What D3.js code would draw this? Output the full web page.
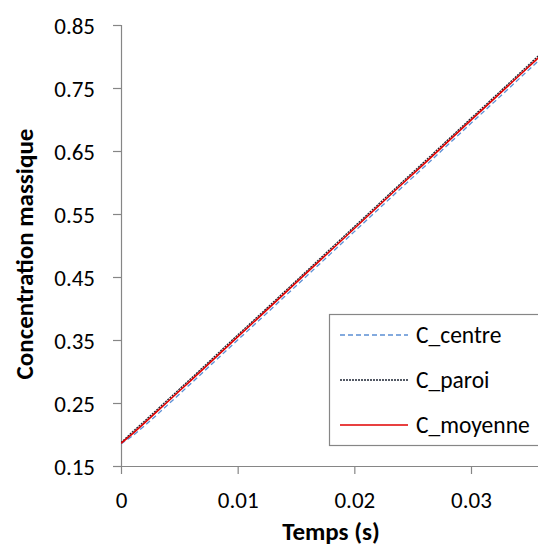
<!DOCTYPE html>
<html><head><meta charset="utf-8">
<script src="https://cdn.jsdelivr.net/npm/d3@7"></script>
<style>
html,body{margin:0;padding:0;background:#fff;}
svg{display:block;}
text{font-family:Calibri, Carlito, Lato, sans-serif;fill:#000;}
</style></head>
<body>
<svg id="chart" width="538" height="548"></svg>
<script>
// ---- data ----
const time = [0, 0.001, 0.002, 0.003, 0.004, 0.005, 0.006, 0.008, 0.010, 0.012, 0.014, 0.016, 0.018, 0.020, 0.022, 0.024, 0.026, 0.028, 0.030, 0.032, 0.034, 0.036];
const cCentre  = [0.185, 0.198, 0.2135, 0.230, 0.247, 0.264, 0.281, 0.3155, 0.350, 0.384, 0.4185, 0.453, 0.4875, 0.522, 0.5565, 0.591, 0.625, 0.6595, 0.694, 0.728, 0.7625, 0.797];
const cParoi   = [0.187, 0.2045, 0.221, 0.238, 0.255, 0.272, 0.289, 0.3235, 0.358, 0.392, 0.4265, 0.461, 0.4955, 0.530, 0.5645, 0.599, 0.633, 0.6675, 0.702, 0.736, 0.7705, 0.805];
const cMoyenne = [0.186, 0.2015, 0.218, 0.235, 0.252, 0.269, 0.286, 0.3205, 0.355, 0.389, 0.4235, 0.458, 0.4925, 0.527, 0.5615, 0.596, 0.630, 0.6645, 0.699, 0.733, 0.7675, 0.802];
const seriesNames = ["C_centre", "C_paroi", "C_moyenne"];
const xTicks = [0, 0.01, 0.02, 0.03];
const xTickLabels = ["0", "0.01", "0.02", "0.03"];
const yTicks = [0.15, 0.25, 0.35, 0.45, 0.55, 0.65, 0.75, 0.85];
const yTickLabels = ["0.15", "0.25", "0.35", "0.45", "0.55", "0.65", "0.75", "0.85"];
const xTitle = "Temps (s)";
const yTitle = "Concentration massique";

(function () {
// ---- layout ----
const svg = d3.select("#chart");
const pLeft = 121, pRight = 541, pTop = 25, pBottom = 466;
const x = d3.scaleLinear().domain([0, 0.036]).range([pLeft, pRight]);
const y = d3.scaleLinear().domain([0.15, 0.85]).range([pBottom, pTop]);
const axisColor = "#868686";
const fontFam = "Calibri, Carlito, Lato, sans-serif";
const tickFont = 23, legFont = 23.5, titleFont = 25;
const styles = [
  {color: "#5b8fd4", dash: "5,3", width: 1.3},
  {color: "#1c2533", dash: "2,1", width: 1.3},
  {color: "#e00000", dash: null, width: 1.6}
];
const seriesVals = [cCentre, cParoi, cMoyenne];

svg.append("defs").append("clipPath").attr("id", "plotclip")
  .append("rect").attr("x", pLeft).attr("y", 0).attr("width", pRight - pLeft).attr("height", pBottom);

// axes
const yAxis = d3.axisLeft(y).tickValues(yTicks).tickSize(8).tickPadding(18)
  .tickFormat((d, i) => yTickLabels[i]);
const gy = svg.append("g").attr("transform", `translate(${pLeft},0)`).call(yAxis);
gy.select(".domain").attr("stroke", axisColor).attr("stroke-width", 1.2).attr("d", `M0.5,${pTop}V${pBottom}`);
gy.selectAll(".tick line").attr("stroke", axisColor).attr("stroke-width", 1.2);
gy.selectAll(".tick text").attr("font-size", tickFont).attr("font-family", fontFam)
  .attr("dy", "0.36em").attr("x", -26);

const xAxis = d3.axisBottom(x).tickValues(xTicks).tickSize(8).tickPadding(20)
  .tickFormat((d, i) => xTickLabels[i]);
const gx = svg.append("g").attr("transform", `translate(0,${pBottom})`).call(xAxis);
gx.select(".domain").attr("stroke", axisColor).attr("stroke-width", 1.2).attr("d", `M${pLeft},0.5H${pRight}`);
gx.selectAll(".tick line").attr("stroke", axisColor).attr("stroke-width", 1.2);
gx.selectAll(".tick text").attr("font-size", tickFont).attr("font-family", fontFam)
  .attr("dy", 0).attr("y", 42);

// series lines
const line = d3.line().x(d => x(d[0])).y(d => y(d[1]));
const gl = svg.append("g").attr("clip-path", "url(#plotclip)");
seriesVals.forEach((vals, i) => {
  gl.append("path")
    .datum(time.map((t, j) => [t, vals[j]]))
    .attr("fill", "none")
    .attr("stroke", styles[i].color)
    .attr("stroke-width", styles[i].width)
    .attr("stroke-dasharray", styles[i].dash)
    .attr("d", line);
});

// titles
svg.append("text").attr("x", (pLeft + pRight) / 2).attr("y", 540)
  .attr("text-anchor", "middle").attr("font-weight", "bold").attr("font-size", titleFont).text(xTitle);
svg.append("text").attr("transform", "translate(33,254) rotate(-90)")
  .attr("text-anchor", "middle").attr("font-weight", "bold").attr("font-size", titleFont).text(yTitle);

// legend
const lg = svg.append("g");
lg.append("rect").attr("x", 329.5).attr("y", 314.5).attr("width", 230).attr("height", 131)
  .attr("fill", "#fff").attr("stroke", axisColor).attr("stroke-width", 1.2);
const legY = [335, 380, 425];
seriesNames.forEach((name, i) => {
  lg.append("line").attr("x1", 340).attr("x2", 408).attr("y1", legY[i]).attr("y2", legY[i])
    .attr("stroke", styles[i].color).attr("stroke-width", styles[i].width)
    .attr("stroke-dasharray", styles[i].dash);
  lg.append("text").attr("x", 416).attr("y", legY[i] + 8).attr("font-size", legFont).text(name);
});
})();
</script>
</body></html>
